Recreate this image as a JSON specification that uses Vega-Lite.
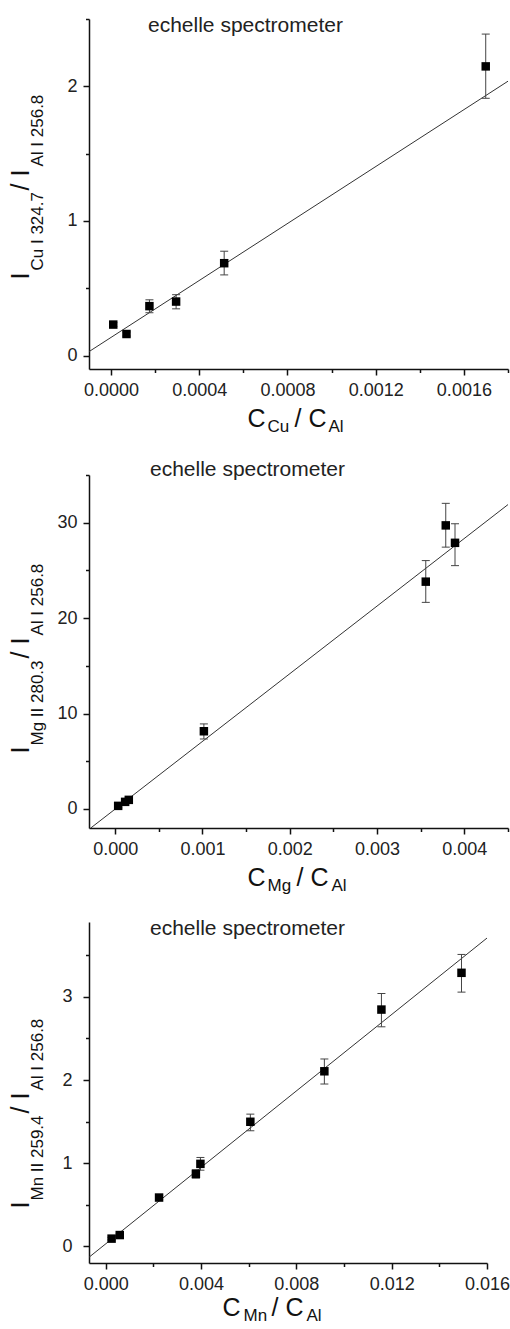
{
  "$schema": "https://vega.github.io/schema/vega-lite/v6.json",
  "background": "white",
  "padding": {"left": 8, "top": 15, "right": 0, "bottom": 0},
  "spacing": 25,
  "datasets": {
    "cu": [
      {"x": 0.00001, "y": 0.23, "lo": 0.215, "hi": 0.245},
      {"x": 0.00007, "y": 0.16, "lo": 0.145, "hi": 0.175},
      {"x": 0.000174, "y": 0.367, "lo": 0.318, "hi": 0.414},
      {"x": 0.000295, "y": 0.401, "lo": 0.347, "hi": 0.452},
      {"x": 0.000513, "y": 0.686, "lo": 0.599, "hi": 0.775},
      {"x": 0.001699, "y": 2.148, "lo": 1.911, "hi": 2.388}
    ],
    "cu_fit": [{"x": -0.0001, "y": 0.029}, {"x": 0.0018, "y": 2.038}],
    "mg": [
      {"x": 0.0000342, "y": 0.32, "lo": 0.12, "hi": 0.52},
      {"x": 0.000114, "y": 0.74, "lo": 0.54, "hi": 0.94},
      {"x": 0.000156, "y": 0.95, "lo": 0.75, "hi": 1.15},
      {"x": 0.001016, "y": 8.14, "lo": 7.33, "hi": 8.91},
      {"x": 0.003558, "y": 23.82, "lo": 21.65, "hi": 26.03},
      {"x": 0.003787, "y": 29.72, "lo": 27.44, "hi": 32.03},
      {"x": 0.003893, "y": 27.89, "lo": 25.5, "hi": 29.89}
    ],
    "mg_fit": [{"x": -0.00028, "y": -2.0}, {"x": 0.0045, "y": 31.9}],
    "mn": [
      {"x": 0.000248, "y": 0.093, "lo": 0.078, "hi": 0.108},
      {"x": 0.00059, "y": 0.136, "lo": 0.121, "hi": 0.151},
      {"x": 0.00224, "y": 0.587, "lo": 0.562, "hi": 0.612},
      {"x": 0.003785, "y": 0.871, "lo": 0.821, "hi": 0.921},
      {"x": 0.003975, "y": 0.992, "lo": 0.916, "hi": 1.069},
      {"x": 0.00607, "y": 1.498, "lo": 1.39, "hi": 1.59},
      {"x": 0.009176, "y": 2.105, "lo": 1.952, "hi": 2.253},
      {"x": 0.01157, "y": 2.847, "lo": 2.64, "hi": 3.04},
      {"x": 0.01493, "y": 3.289, "lo": 3.057, "hi": 3.51}
    ],
    "mn_fit": [{"x": -0.0007, "y": -0.131}, {"x": 0.016, "y": 3.707}]
  },
  "vconcat": [
    {
      "width": 419,
      "height": 350,
      "title": {"text": "echelle spectrometer", "anchor": "start", "frame": "group", "baseline": "alphabetic", "offset": -25, "dx": 59, "dy": 10, "fontSize": 21, "fontWeight": "normal", "font": "Liberation Sans", "color": "#222"},
      "resolve": {"axis": {"x": "independent", "y": "independent"}},
      "layer": [
        {
          "data": {"name": "cu_fit"},
          "mark": {"type": "line", "color": "#333", "strokeWidth": 1, "clip": true},
          "encoding": {
            "x": {"field": "x", "type": "quantitative", "scale": {"domain": [-0.0001, 0.0018], "nice": false, "zero": false},
              "axis": {"orient": "bottom", "values": [0, 0.0004, 0.0008, 0.0012, 0.0016], "format": ".4f", "tickSize": 6, "labelPadding": 6, "title": "C", "titleX": 158, "titleY": 57, "titleAngle": 0, "titleFontSize": 25}},
            "y": {"field": "y", "type": "quantitative", "scale": {"domain": [-0.1, 2.5], "nice": false, "zero": false},
              "axis": {"orient": "left", "values": [0, 1, 2], "format": "d", "tickSize": 6, "labelPadding": 6, "title": "I", "titleX": -61, "titleY": 260, "titleAngle": -90, "titleFontSize": 25}}
          }
        },
        {
          "data": {"name": "cu"},
          "mark": {"type": "rule", "color": "#444", "strokeWidth": 1},
          "encoding": {
            "x": {"field": "x", "type": "quantitative", "axis": {"orient": "bottom", "domain": false, "labels": false, "values": [0.0002, 0.0006, 0.001, 0.0014, 0.0018], "tickSize": 3.5, "title": "Cu", "titleX": 178, "titleY": 62, "titleAngle": 0, "titleFontSize": 17}},
            "y": {"field": "lo", "type": "quantitative", "axis": {"orient": "left", "domain": false, "labels": false, "values": [0.5, 1.5, 2.5], "tickSize": 3.5, "title": "Cu I 324.7", "titleX": -47, "titleY": 251, "titleAngle": -90, "titleFontSize": 17}},
            "y2": {"field": "hi"}
          }
        },
        {
          "data": {"name": "cu"},
          "mark": {"type": "tick", "orient": "horizontal", "size": 8, "thickness": 1, "color": "#444", "opacity": 1},
          "encoding": {
            "x": {"field": "x", "type": "quantitative", "axis": {"orient": "bottom", "domain": false, "labels": false, "ticks": false, "title": "/ C", "titleX": 205, "titleY": 57, "titleAngle": 0, "titleFontSize": 25}},
            "y": {"field": "lo", "type": "quantitative", "axis": {"orient": "left", "domain": false, "labels": false, "ticks": false, "title": "/ I", "titleX": -61, "titleY": 171, "titleAngle": -90, "titleFontSize": 25}}
          }
        },
        {
          "data": {"name": "cu"},
          "mark": {"type": "tick", "orient": "horizontal", "size": 8, "thickness": 1, "color": "#444", "opacity": 1},
          "encoding": {
            "x": {"field": "x", "type": "quantitative", "axis": {"orient": "bottom", "domain": false, "labels": false, "ticks": false, "title": "Al", "titleX": 239, "titleY": 62, "titleAngle": 0, "titleFontSize": 17}},
            "y": {"field": "hi", "type": "quantitative", "axis": {"orient": "left", "domain": false, "labels": false, "ticks": false, "title": "Al I 256.8", "titleX": -47, "titleY": 147, "titleAngle": -90, "titleFontSize": 17}}
          }
        },
        {
          "data": {"name": "cu"},
          "mark": {"type": "point", "shape": "square", "filled": true, "size": 72, "color": "#000", "opacity": 1},
          "encoding": {
            "x": {"field": "x", "type": "quantitative", "axis": null},
            "y": {"field": "y", "type": "quantitative", "axis": null}
          }
        }
      ]
    },
    {
      "width": 419,
      "height": 353,
      "title": {"text": "echelle spectrometer", "anchor": "start", "frame": "group", "baseline": "alphabetic", "offset": -21, "dx": 61, "dy": 2, "fontSize": 21, "fontWeight": "normal", "font": "Liberation Sans", "color": "#222"},
      "resolve": {"axis": {"x": "independent", "y": "independent"}},
      "layer": [
        {
          "data": {"name": "mg_fit"},
          "mark": {"type": "line", "color": "#333", "strokeWidth": 1, "clip": true},
          "encoding": {
            "x": {"field": "x", "type": "quantitative", "scale": {"domain": [-0.0003, 0.0045], "nice": false, "zero": false},
              "axis": {"orient": "bottom", "values": [0, 0.001, 0.002, 0.003, 0.004], "format": ".3f", "tickSize": 6, "labelPadding": 6, "title": "C", "titleX": 158, "titleY": 57, "titleAngle": 0, "titleFontSize": 25}},
            "y": {"field": "y", "type": "quantitative", "scale": {"domain": [-2, 35], "nice": false, "zero": false},
              "axis": {"orient": "left", "values": [0, 10, 20, 30], "format": "d", "tickSize": 6, "labelPadding": 6, "title": "I", "titleX": -61, "titleY": 278, "titleAngle": -90, "titleFontSize": 25}}
          }
        },
        {
          "data": {"name": "mg"},
          "mark": {"type": "rule", "color": "#444", "strokeWidth": 1},
          "encoding": {
            "x": {"field": "x", "type": "quantitative", "axis": {"orient": "bottom", "domain": false, "labels": false, "values": [0.0005, 0.0015, 0.0025, 0.0035, 0.0045], "tickSize": 3.5, "title": "Mg", "titleX": 178, "titleY": 62, "titleAngle": 0, "titleFontSize": 17}},
            "y": {"field": "lo", "type": "quantitative", "axis": {"orient": "left", "domain": false, "labels": false, "values": [5, 15, 25, 35], "tickSize": 3.5, "title": "Mg II 280.3", "titleX": -47, "titleY": 270, "titleAngle": -90, "titleFontSize": 17}},
            "y2": {"field": "hi"}
          }
        },
        {
          "data": {"name": "mg"},
          "mark": {"type": "tick", "orient": "horizontal", "size": 8, "thickness": 1, "color": "#444", "opacity": 1},
          "encoding": {
            "x": {"field": "x", "type": "quantitative", "axis": {"orient": "bottom", "domain": false, "labels": false, "ticks": false, "title": "/ C", "titleX": 207, "titleY": 57, "titleAngle": 0, "titleFontSize": 25}},
            "y": {"field": "lo", "type": "quantitative", "axis": {"orient": "left", "domain": false, "labels": false, "ticks": false, "title": "/ I", "titleX": -61, "titleY": 183, "titleAngle": -90, "titleFontSize": 25}}
          }
        },
        {
          "data": {"name": "mg"},
          "mark": {"type": "tick", "orient": "horizontal", "size": 8, "thickness": 1, "color": "#444", "opacity": 1},
          "encoding": {
            "x": {"field": "x", "type": "quantitative", "axis": {"orient": "bottom", "domain": false, "labels": false, "ticks": false, "title": "Al", "titleX": 242, "titleY": 62, "titleAngle": 0, "titleFontSize": 17}},
            "y": {"field": "hi", "type": "quantitative", "axis": {"orient": "left", "domain": false, "labels": false, "ticks": false, "title": "Al I 256.8", "titleX": -47, "titleY": 160, "titleAngle": -90, "titleFontSize": 17}}
          }
        },
        {
          "data": {"name": "mg"},
          "mark": {"type": "point", "shape": "square", "filled": true, "size": 72, "color": "#000", "opacity": 1},
          "encoding": {
            "x": {"field": "x", "type": "quantitative", "axis": null},
            "y": {"field": "y", "type": "quantitative", "axis": null}
          }
        }
      ]
    },
    {
      "width": 398,
      "height": 341,
      "title": {"text": "echelle spectrometer", "anchor": "start", "frame": "group", "baseline": "alphabetic", "offset": -23, "dx": 61, "dy": 11, "fontSize": 21, "fontWeight": "normal", "font": "Liberation Sans", "color": "#222"},
      "resolve": {"axis": {"x": "independent", "y": "independent"}},
      "layer": [
        {
          "data": {"name": "mn_fit"},
          "mark": {"type": "line", "color": "#333", "strokeWidth": 1, "clip": true},
          "encoding": {
            "x": {"field": "x", "type": "quantitative", "scale": {"domain": [-0.0007, 0.016], "nice": false, "zero": false},
              "axis": {"orient": "bottom", "values": [0, 0.004, 0.008, 0.012, 0.016], "format": ".3f", "tickSize": 6, "labelPadding": 6, "title": "C", "titleX": 133, "titleY": 52, "titleAngle": 0, "titleFontSize": 25}},
            "y": {"field": "y", "type": "quantitative", "scale": {"domain": [-0.2, 3.9], "nice": false, "zero": false},
              "axis": {"orient": "left", "values": [0, 1, 2, 3], "format": "d", "tickSize": 6, "labelPadding": 11, "title": "I", "titleX": -61, "titleY": 286, "titleAngle": -90, "titleFontSize": 25}}
          }
        },
        {
          "data": {"name": "mn"},
          "mark": {"type": "rule", "color": "#444", "strokeWidth": 1},
          "encoding": {
            "x": {"field": "x", "type": "quantitative", "axis": {"orient": "bottom", "domain": false, "labels": false, "values": [0.002, 0.006, 0.01, 0.014], "tickSize": 3.5, "title": "Mn", "titleX": 154, "titleY": 57, "titleAngle": 0, "titleFontSize": 17}},
            "y": {"field": "lo", "type": "quantitative", "axis": {"orient": "left", "domain": false, "labels": false, "values": [0.5, 1.5, 2.5, 3.5], "tickSize": 3.5, "title": "Mn II 259.4", "titleX": -47, "titleY": 278, "titleAngle": -90, "titleFontSize": 17}},
            "y2": {"field": "hi"}
          }
        },
        {
          "data": {"name": "mn"},
          "mark": {"type": "tick", "orient": "horizontal", "size": 8, "thickness": 1, "color": "#444", "opacity": 1},
          "encoding": {
            "x": {"field": "x", "type": "quantitative", "axis": {"orient": "bottom", "domain": false, "labels": false, "ticks": false, "title": "/ C", "titleX": 182, "titleY": 52, "titleAngle": 0, "titleFontSize": 25}},
            "y": {"field": "lo", "type": "quantitative", "axis": {"orient": "left", "domain": false, "labels": false, "ticks": false, "title": "/ I", "titleX": -61, "titleY": 191, "titleAngle": -90, "titleFontSize": 25}}
          }
        },
        {
          "data": {"name": "mn"},
          "mark": {"type": "tick", "orient": "horizontal", "size": 8, "thickness": 1, "color": "#444", "opacity": 1},
          "encoding": {
            "x": {"field": "x", "type": "quantitative", "axis": {"orient": "bottom", "domain": false, "labels": false, "ticks": false, "title": "Al", "titleX": 217, "titleY": 57, "titleAngle": 0, "titleFontSize": 17}},
            "y": {"field": "hi", "type": "quantitative", "axis": {"orient": "left", "domain": false, "labels": false, "ticks": false, "title": "Al I 256.8", "titleX": -47, "titleY": 168, "titleAngle": -90, "titleFontSize": 17}}
          }
        },
        {
          "data": {"name": "mn"},
          "mark": {"type": "point", "shape": "square", "filled": true, "size": 72, "color": "#000", "opacity": 1},
          "encoding": {
            "x": {"field": "x", "type": "quantitative", "axis": null},
            "y": {"field": "y", "type": "quantitative", "axis": null}
          }
        }
      ]
    }
  ],
  "config": {
    "view": {"stroke": null},
    "font": "Liberation Sans",
    "axis": {
      "grid": false,
      "domainColor": "#111",
      "domainWidth": 1.5,
      "tickColor": "#111",
      "tickWidth": 1.5,
      "labelFont": "Liberation Sans",
      "labelFontSize": 18,
      "labelColor": "#222",
      "labelFlush": false,
      "labelOverlap": false,
      "titleFont": "Liberation Sans",
      "titleFontWeight": "normal",
      "titleColor": "#111",
      "titleAlign": "left",
      "titleBaseline": "alphabetic"
    }
  }
}
